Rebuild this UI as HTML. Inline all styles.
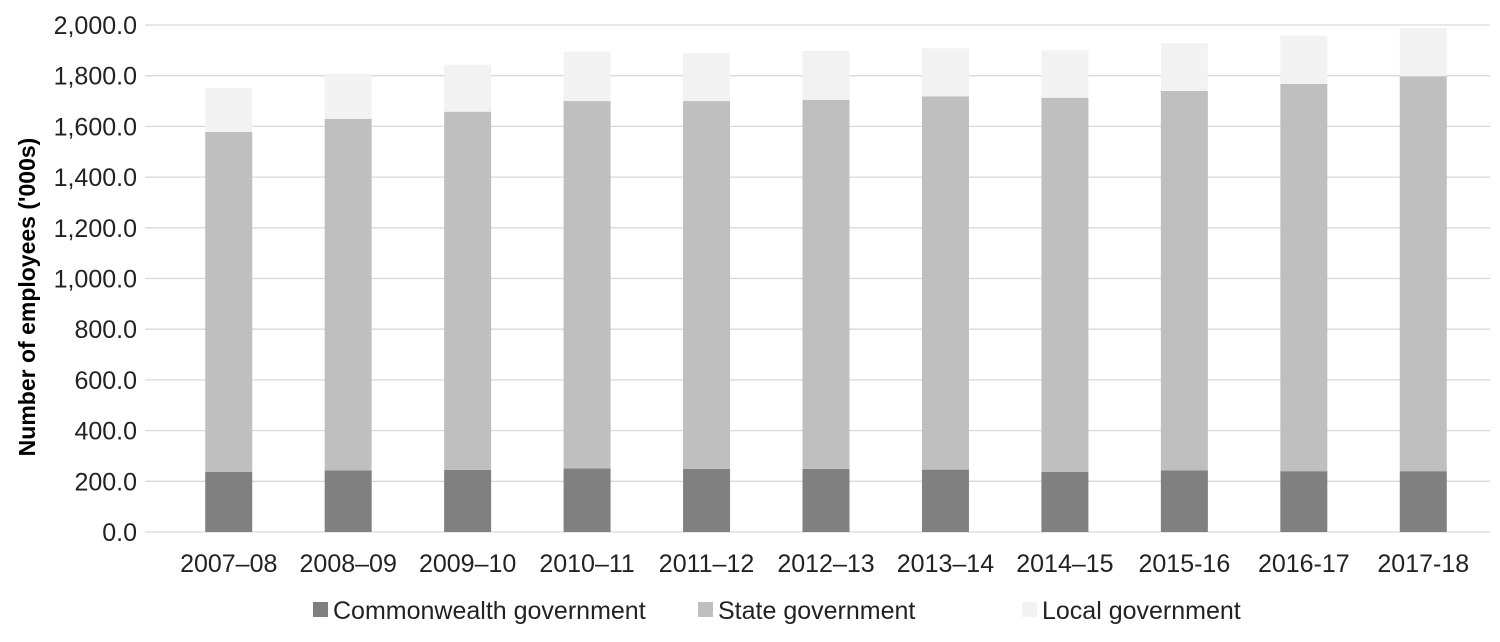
<!DOCTYPE html>
<html><head><meta charset="utf-8"><style>
body{margin:0;background:#fff;}
svg{display:block;font-family:"Liberation Sans",Arial,sans-serif;}
</style></head><body>
<svg id="chart" width="1500" height="642" viewBox="0 0 1500 642">
<g id="grid"></g>
<g id="bars"></g>
<g id="yticks"></g>
<g id="xticks"></g>
<text transform="translate(35,297) rotate(-90)" text-anchor="middle" font-size="23" font-weight="bold" fill="#000">Number of employees ('000s)</text>
<g font-size="25" fill="#222">
<g><rect x="313" y="602" width="15" height="15" fill="#808080"/><text x="333" y="619">Commonwealth government</text></g>
<g><rect x="698" y="602" width="15" height="15" fill="#bfbfbf"/><text x="718" y="619">State government</text></g>
<g><rect x="1022" y="602" width="15" height="15" fill="#f2f2f2"/><text x="1042" y="619">Local government</text></g>
</g>
</svg>
<script>
const categories=["2007–08","2008–09","2009–10","2010–11","2011–12","2012–13","2013–14","2014–15","2015-16","2016-17","2017-18"];
const commonwealth=[237,243,245,251,249,249,246,237,243,240,240];
const state=[1341,1387,1413,1449,1451,1456,1472,1476,1497,1528,1558];
const local=[174,178,185,195,190,193,190,187,188,190,190];
const yTicks=[0,200,400,600,800,1000,1200,1400,1600,1800,2000];
const NS="http://www.w3.org/2000/svg";
const x0=169,x1=1483,yBase=532,yTop=25,yMax=2000;
const y=v=>yBase-(v/yMax)*(yBase-yTop);
const band=(x1-x0)/categories.length;
const xc=i=>x0+band*(i+0.5);
function mk(tag,attrs,parent){const e=document.createElementNS(NS,tag);for(const k in attrs)e.setAttribute(k,attrs[k]);parent.appendChild(e);return e;}
const grid=document.getElementById('grid'),yt=document.getElementById('yticks'),xt=document.getElementById('xticks'),bars=document.getElementById('bars');
yTicks.forEach(v=>{
 const l=mk('line',{x1:145,x2:1490,y1:y(v),y2:y(v),stroke:'#d9d9d9','stroke-width':1.3},grid);
 
 
 const t=mk('text',{x:137,y:y(v)+9,'text-anchor':'end','font-size':25,fill:'#222'},yt);
 
 
 t.textContent=v.toLocaleString('en-US',{minimumFractionDigits:1,maximumFractionDigits:1});
});
const bw=47;
const series=[[commonwealth,'#808080','commonwealth'],[state,'#bfbfbf','state'],[local,'#f2f2f2','local']];
categories.forEach((c,i)=>{
 let acc=0;
 series.forEach(([arr,col,nm])=>{
  const v=arr[i];
  const r=mk('rect',{x:xc(i)-bw/2,y:y(acc+v),width:bw,height:y(acc)-y(acc+v),fill:col},bars);
  
  
  acc+=v;
 });
 const t=mk('text',{x:xc(i),y:yBase+40,'text-anchor':'middle','font-size':25,fill:'#222'},xt);
 
 
 t.textContent=c;
});
</script>
</body></html>
